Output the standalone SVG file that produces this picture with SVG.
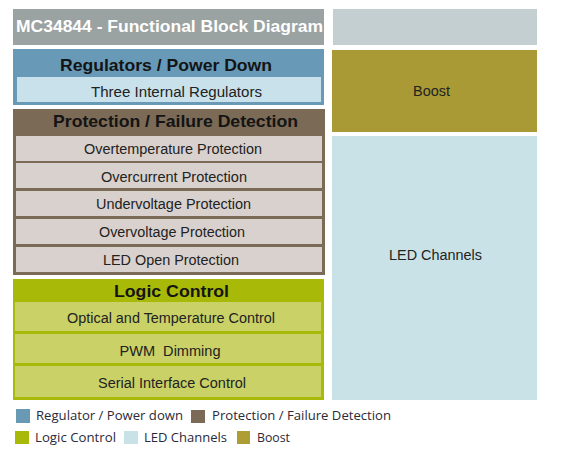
<svg xmlns="http://www.w3.org/2000/svg" width="562" height="450" viewBox="0 0 562 450">
<style>
.hdr{font-family:"Liberation Sans",Arial,sans-serif;font-weight:bold;font-size:16.5px;fill:#141414;text-anchor:middle}
.row{font-family:"Liberation Sans",Arial,sans-serif;font-size:15.5px;fill:#222;text-anchor:middle}
.leg{font-family:"Open Sans","Noto Sans",sans-serif;font-size:13.5px;fill:#2a2a3a}
.ttl{font-family:"Liberation Sans",Arial,sans-serif;font-weight:bold;font-size:17px;fill:#ffffff}
.prow{fill:#d9d1cd}
.lrow{fill:#c9d167}
</style>
<rect width="562" height="450" fill="#ffffff"/>
<g id="title">
<rect x="13" y="9" width="311" height="36" fill="#9aa2a2"/>
<text class="ttl" x="16" y="32" textLength="307" lengthAdjust="spacingAndGlyphs">MC34844 - Functional Block Diagram</text>
</g>
<g id="top-right">
<rect x="333" y="9" width="204" height="36" fill="#c4cfd2"/>
</g>
<g id="regulators">
<rect x="13" y="49" width="311" height="56" fill="#6899b6"/>
<text class="hdr" x="166" y="71" textLength="212" lengthAdjust="spacingAndGlyphs">Regulators / Power Down</text>
<rect x="17" y="77" width="304" height="25" fill="#c8e1ea"/>
<text class="row" x="176.5" y="97" textLength="171" lengthAdjust="spacingAndGlyphs">Three Internal Regulators</text>
</g>
<g id="protection">
<rect x="13" y="109" width="312" height="166" fill="#7a6a56"/>
<text class="hdr" x="175.5" y="127" textLength="245" lengthAdjust="spacingAndGlyphs">Protection / Failure Detection</text>
<rect class="prow" x="16" y="136" width="306" height="25"/>
<text class="row" x="173" y="154" textLength="178" lengthAdjust="spacingAndGlyphs">Overtemperature Protection</text>
<rect class="prow" x="16" y="163" width="306" height="25"/>
<text class="row" x="174" y="182" textLength="146" lengthAdjust="spacingAndGlyphs">Overcurrent Protection</text>
<rect class="prow" x="16" y="191" width="306" height="25"/>
<text class="row" x="173.5" y="209" textLength="155" lengthAdjust="spacingAndGlyphs">Undervoltage Protection</text>
<rect class="prow" x="16" y="219" width="306" height="25"/>
<text class="row" x="172" y="237" textLength="146" lengthAdjust="spacingAndGlyphs">Overvoltage Protection</text>
<rect class="prow" x="16" y="247" width="306" height="25"/>
<text class="row" x="171" y="265" textLength="136" lengthAdjust="spacingAndGlyphs">LED Open Protection</text>
</g>
<g id="logic">
<rect x="13" y="279" width="311" height="121" fill="#a9b908"/>
<text class="hdr" x="171.5" y="297" textLength="115" lengthAdjust="spacingAndGlyphs">Logic Control</text>
<rect class="lrow" x="15" y="302" width="306" height="29"/>
<text class="row" x="171" y="323" textLength="208" lengthAdjust="spacingAndGlyphs">Optical and Temperature Control</text>
<rect class="lrow" x="15" y="334" width="306" height="29"/>
<text class="row" x="170" y="356" textLength="101" lengthAdjust="spacingAndGlyphs" xml:space="preserve">PWM  Dimming</text>
<rect class="lrow" x="15" y="366" width="306" height="31"/>
<text class="row" x="172" y="388" textLength="148" lengthAdjust="spacingAndGlyphs">Serial Interface Control</text>
</g>
<g id="boost">
<rect x="332" y="50" width="205" height="82" fill="#a99a35"/>
<text class="row" x="431.5" y="96" textLength="37" lengthAdjust="spacingAndGlyphs">Boost</text>
</g>
<g id="led-channels">
<rect x="332" y="136" width="205" height="264" fill="#c9e2e8"/>
<text class="row" x="435.5" y="260" textLength="93" lengthAdjust="spacingAndGlyphs">LED Channels</text>
</g>
<g id="connectors"/>
<g id="legend">
<rect x="16" y="409" width="14" height="14" fill="#6a99b5"/>
<text class="leg" x="36" y="420" textLength="147" lengthAdjust="spacingAndGlyphs">Regulator / Power down</text>
<rect x="191" y="410" width="14" height="13" fill="#7a6a56"/>
<text class="leg" x="212" y="420" textLength="179" lengthAdjust="spacingAndGlyphs">Protection / Failure Detection</text>
<rect x="15" y="431" width="14" height="13" fill="#a9b908"/>
<text class="leg" x="35" y="442" textLength="81" lengthAdjust="spacingAndGlyphs">Logic Control</text>
<rect x="124" y="431" width="14" height="13" fill="#c9e2e8"/>
<text class="leg" x="144" y="442" textLength="83" lengthAdjust="spacingAndGlyphs">LED Channels</text>
<rect x="237" y="431" width="13" height="13" fill="#ae9c35"/>
<text class="leg" x="257" y="442" textLength="33" lengthAdjust="spacingAndGlyphs">Boost</text>
</g>
</svg>
